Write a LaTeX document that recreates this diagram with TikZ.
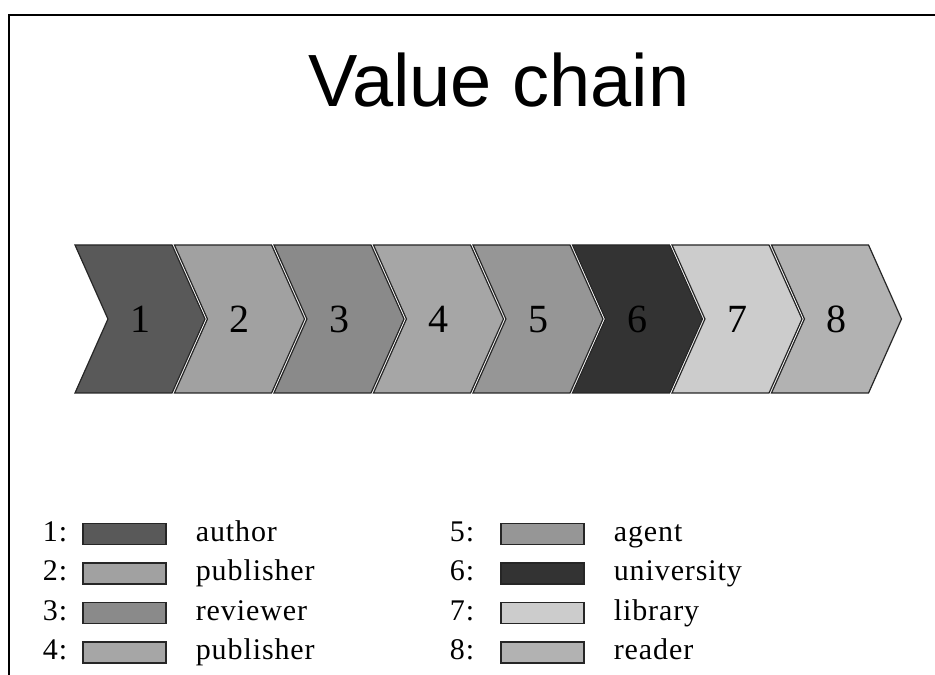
\documentclass[tikz,border=0pt]{standalone}
\usepackage{fontspec}
\setmainfont{Liberation Serif}
\newfontfamily\headfont{Liberation Sans}
\newfontfamily\keyfont[LetterSpace=3]{Liberation Serif}
\usetikzlibrary{shapes.symbols,positioning}

\begin{document}
\begin{tikzpicture}[
       x=1pt, y=1pt,
       node distance=99.5pt,
       chev/.style={signal, signal to=east, signal from=west, signal pointer angle=132, minimum width=130pt, minimum height=148pt, inner sep=0pt, text height=27pt, text depth=0pt, draw=black!85, line width=1.2pt, font=\fontsize{40}{40}\selectfont},
       keybox/.style={rectangle, draw=black!85, line width=1.3pt, minimum width=83pt, minimum height=21pt, inner sep=0pt},
       keytxt/.style={inner sep=0pt, text height=21pt, text depth=6pt, font=\keyfont\fontsize{30}{30}\selectfont},
       heading/.style={font=\headfont\fontsize{74}{74}\selectfont}
   ]
   \useasboundingbox (0,0) rectangle (935,675);
   \draw[line width=2.4pt] (935,660) -- (9,660) -- (9,0);

   \node[heading, anchor=base] (title) at (499,568) {Value chain};

   % the chain
   \node[chev, fill=black!65] (s1) at (140,356) {1};
   \node[chev, fill=black!37, right of=s1] (s2) {2};
   \node[chev, fill=black!46, right of=s2] (s3) {3};
   \node[chev, fill=black!35, right of=s3] (s4) {4};
   \node[chev, fill=black!41, right of=s4] (s5) {5};
   \node[chev, fill=black!80, right of=s5] (s6) {6};
   \node[chev, fill=black!20, right of=s6] (s7) {7};
   \node[chev, fill=black!30, right of=s7] (s8) {8};

   % legend
   \begin{scope}[node distance=39.5pt]
   \node[keybox, fill=black!65] (k1) at (124.5,141) {};
   \node[keybox, fill=black!37, below of=k1] (k2) {};
   \node[keybox, fill=black!46, below of=k2] (k3) {};
   \node[keybox, fill=black!35, below of=k3] (k4) {};
   \node[keybox, fill=black!41] (k5) at (542.5,141) {};
   \node[keybox, fill=black!80, below of=k5] (k6) {};
   \node[keybox, fill=black!20, below of=k6] (k7) {};
   \node[keybox, fill=black!30, below of=k7] (k8) {};
   \end{scope}

   \node[keytxt, left=15pt of k1] (l1) {1:};
   \node[keytxt, left=15pt of k2] (l2) {2:};
   \node[keytxt, left=15pt of k3] (l3) {3:};
   \node[keytxt, left=15pt of k4] (l4) {4:};
   \node[keytxt, left=26pt of k5] (l5) {5:};
   \node[keytxt, left=26pt of k6] (l6) {6:};
   \node[keytxt, left=26pt of k7] (l7) {7:};
   \node[keytxt, left=26pt of k8] (l8) {8:};

   \node[keytxt, right=29pt of k1, anchor=west] (n1) {author};
   \node[keytxt, right=29pt of k2, anchor=west] (n2) {publisher};
   \node[keytxt, right=29pt of k3, anchor=west] (n3) {reviewer};
   \node[keytxt, right=29pt of k4, anchor=west] (n4) {publisher};
   \node[keytxt, right=29pt of k5, anchor=west] (n5) {agent};
   \node[keytxt, right=29pt of k6, anchor=west] (n6) {university};
   \node[keytxt, right=29pt of k7, anchor=west] (n7) {library};
   \node[keytxt, right=29pt of k8, anchor=west] (n8) {reader};
\end{tikzpicture}
\end{document}
